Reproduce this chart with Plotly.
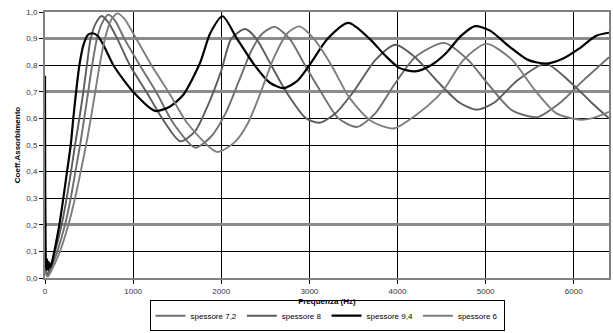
import plotly.graph_objects as go

# ---- data ----
series_names = ["spessore 7,2", "spessore 8", "spessore 9,4", "spessore 6"]
series_colors = ["#6f6f6f", "#5c5c5c", "#000000", "#7e7e7e"]

f_72 = [0, 30, 60, 140, 227, 292, 345, 398, 445, 490, 535, 590, 650, 720, 800, 900, 1076, 1260,
        1460, 1705, 1880, 2050, 2200, 2350, 2470, 2606, 2775, 2950, 3130, 3330, 3542, 3750, 3950,
        4200, 4530, 4800, 5050, 5300, 5587, 5850, 6100, 6400]
a_72 = [0.02, 0.01, 0.03, 0.10, 0.20, 0.30, 0.40, 0.50, 0.60, 0.70, 0.80, 0.90, 0.96, 0.99, 0.965,
        0.90, 0.80, 0.70, 0.58, 0.49, 0.53, 0.62, 0.74, 0.86, 0.92, 0.944, 0.90, 0.80, 0.70, 0.60,
        0.568, 0.62, 0.72, 0.83, 0.884, 0.82, 0.72, 0.63, 0.605, 0.66, 0.74, 0.83]

f_8 = [0, 10, 20, 50, 114, 189, 246, 295, 341, 390, 435, 475, 518, 580, 644, 720, 820, 963, 1150,
       1330, 1534, 1700, 1850, 2001, 2114, 2273, 2397, 2567, 2737, 2964, 3125, 3300, 3500, 3750,
       3977, 4200, 4450, 4700, 4900, 5100, 5350, 5680, 5950, 6200, 6400]
a_8 = [0.42, 0.05, 0.01, 0.03, 0.10, 0.20, 0.30, 0.40, 0.50, 0.60, 0.70, 0.80, 0.90, 0.96, 0.985,
       0.96, 0.90, 0.80, 0.70, 0.60, 0.514, 0.55, 0.65, 0.78, 0.90, 0.936, 0.90, 0.80, 0.70, 0.60,
       0.584, 0.62, 0.70, 0.82, 0.877, 0.83, 0.74, 0.66, 0.633, 0.66, 0.74, 0.806, 0.74, 0.66, 0.60]

f_94 = [0, 8, 15, 25, 35, 45, 60, 80, 106, 163, 208, 250, 292, 321, 353, 390, 440, 490, 542, 600,
        680, 776, 1000, 1250, 1420, 1572, 1761, 1875, 2015, 2178, 2378, 2548, 2708, 2860, 3001,
        3209, 3443, 3681, 3850, 4020, 4200, 4380, 4550, 4720, 4880, 5050, 5270, 5480, 5690, 5880,
        6060, 6250, 6400]
a_94 = [0.76, 0.07, 0.03, 0.07, 0.03, 0.06, 0.04, 0.06, 0.10, 0.20, 0.30, 0.40, 0.50, 0.60, 0.70,
        0.80, 0.88, 0.915, 0.92, 0.91, 0.865, 0.80, 0.70, 0.628, 0.645, 0.69, 0.81, 0.92, 0.984,
        0.90, 0.80, 0.735, 0.714, 0.74, 0.80, 0.90, 0.959, 0.90, 0.84, 0.79, 0.777, 0.80, 0.845,
        0.91, 0.947, 0.93, 0.87, 0.82, 0.806, 0.825, 0.862, 0.91, 0.922]

f_6 = [0, 30, 60, 170, 265, 341, 405, 466, 520, 570, 620, 680, 750, 822, 900, 1000, 1208, 1400,
       1620, 1951, 2150, 2300, 2450, 2600, 2750, 2886, 3050, 3250, 3450, 3700, 3958, 4200, 4450,
       4550, 4750, 5008, 5300, 5550, 5800, 6080, 6250, 6400]
a_6 = [0.02, 0.005, 0.02, 0.10, 0.20, 0.30, 0.40, 0.50, 0.60, 0.70, 0.80, 0.90, 0.97, 0.995, 0.975,
       0.92, 0.80, 0.70, 0.58, 0.474, 0.51, 0.58, 0.70, 0.83, 0.92, 0.946, 0.90, 0.80, 0.68, 0.59,
       0.562, 0.61, 0.68, 0.72, 0.82, 0.881, 0.82, 0.71, 0.62, 0.595, 0.605, 0.625]

series_f = [f_72, f_8, f_94, f_6]
series_a = [a_72, a_8, a_94, a_6]

x_ticks = [0, 1000, 2000, 3000, 4000, 5000, 6000]
y_ticks = [0.0, 0.1, 0.2, 0.3, 0.4, 0.5, 0.6, 0.7, 0.8, 0.9, 1.0]
y_labels = ["0,0", "0,1", "0,2", "0,3", "0,4", "0,5", "0,6", "0,7", "0,8", "0,9", "1,0"]
grey_grid = [0.2, 0.7, 0.9]
black_grid = [v for v in y_ticks[1:-1] if v not in grey_grid]

fig = go.Figure()
for name, col, fx, ay in zip(series_names, series_colors, series_f, series_a):
    fig.add_trace(go.Scatter(
        x=fx, y=ay, mode="lines", name=name,
        line=dict(color=col, width=2.2 if col == "#000000" else 1.9, shape="spline", smoothing=0.7),
    ))
# empty helper traces so the grid-only overlay axes are drawn
for ax in ["y2", "y3"]:
    fig.add_trace(go.Scatter(x=[], y=[], yaxis=ax, showlegend=False, hoverinfo="skip"))

font = "Liberation Sans, Arial, sans-serif"
grid_axis = dict(overlaying="y", range=[0, 1], tickmode="array", showticklabels=False, ticks="",
                 showline=False, zeroline=False, showgrid=True, automargin=False)
fig.update_layout(
    width=613, height=333,
    margin=dict(l=45, r=4, t=12, b=55, autoexpand=False),
    paper_bgcolor="white", plot_bgcolor="white",
    font=dict(family=font, size=8, color="black"),
    showlegend=True,
    legend=dict(orientation="h", x=0.5, xanchor="center", y=-0.2, yanchor="bottom",
                bordercolor="black", borderwidth=1, font=dict(size=8, family=font),
                itemwidth=30, tracegroupgap=0, traceorder="normal"),
    xaxis=dict(range=[0, 6400], tickvals=x_ticks, showgrid=True, gridcolor="black", gridwidth=1,
               showline=True, linecolor="#808080", linewidth=2, mirror=True, automargin=False,
               ticks="outside", ticklen=4, tickcolor="black", zeroline=False,
               title=dict(text="<b>Frequenza (Hz)</b>", font=dict(size=8, family=font), standoff=4),
               tickfont=dict(size=8, family=font, color="#333")),
    yaxis=dict(range=[0, 1], tickvals=y_ticks, ticktext=y_labels, showgrid=False,
               showline=True, linecolor="#808080", linewidth=2, mirror=True,
               automargin=False,
               ticks="outside", ticklen=4, tickcolor="black", zeroline=False,
               title=dict(text="<b>Coeff.Assorbimento</b>", font=dict(size=8, family=font), standoff=4),
               tickfont=dict(size=8, family=font, color="#333")),
    yaxis2=dict(grid_axis, tickvals=black_grid, gridcolor="black", gridwidth=1),
    yaxis3=dict(grid_axis, tickvals=grey_grid, gridcolor="#8c8c8c", gridwidth=2.5),
)

fig.write_html("out.html", config={"displayModeBar": False},
               post_script="document.body.style.margin='0px';")
